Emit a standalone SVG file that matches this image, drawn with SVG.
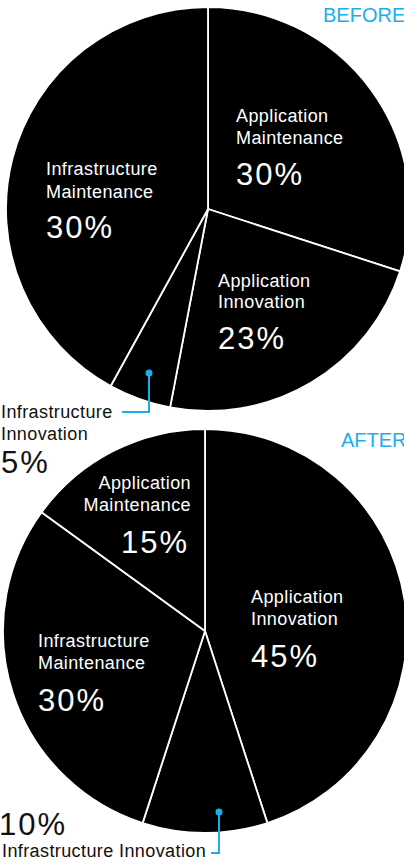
<svg xmlns="http://www.w3.org/2000/svg" width="404" height="861" viewBox="0 0 404 861">
<style>
.slice{fill:#000;stroke:#fff;stroke-width:1.8;stroke-linejoin:round}
.lbl{font-family:"Liberation Sans",Arial,Helvetica,sans-serif;font-size:18px;letter-spacing:0.4px}
.pct{font-family:"Liberation Sans",Arial,Helvetica,sans-serif;font-size:31px;letter-spacing:2px}
.in{fill:#fff}
.out{fill:#111}
.title{font-family:"Liberation Sans",Arial,Helvetica,sans-serif;font-size:20px;fill:#1aaeea}
.conn{fill:none;stroke:#1aaeea;stroke-width:2}
.dot{fill:#1aaeea}
</style>
<rect width="404" height="861" fill="#fff"/>
<text class="title" x="323" y="22">BEFORE</text>
<text class="title" x="341" y="447">AFTER</text>

<g id="before-app-maint">
<path class="slice" d="M208,209 L208,7 A202,202 0 0 1 400.1,271.4 Z"/>
<text class="lbl in" x="236" y="122">Application</text>
<text class="lbl in" x="236" y="144">Maintenance</text>
<text class="pct in" x="236" y="185">30%</text>
</g>
<g id="before-app-innov">
<path class="slice" d="M208,209 L400.1,271.4 A202,202 0 0 1 170.1,407.4 Z"/>
<text class="lbl in" x="218" y="287">Application</text>
<text class="lbl in" x="218" y="308">Innovation</text>
<text class="pct in" x="218" y="349">23%</text>
</g>
<g id="before-infra-innov">
<path class="slice" d="M208,209 L170.1,407.4 A202,202 0 0 1 110.7,386 Z"/>
<text class="lbl out" x="1" y="418">Infrastructure</text>
<text class="lbl out" x="1" y="440">Innovation</text>
<text class="pct out" x="1" y="473">5%</text>
</g>
<g id="before-infra-maint">
<path class="slice" d="M208,209 L110.7,386 A202,202 0 0 1 208,7 Z"/>
<text class="lbl in" x="46" y="175">Infrastructure</text>
<text class="lbl in" x="46" y="198">Maintenance</text>
<text class="pct in" x="46" y="238">30%</text>
</g>

<g id="after-app-innov">
<path class="slice" d="M205,631 L205,429 A202,202 0 0 1 267.4,823.1 Z"/>
<text class="lbl in" x="251" y="603">Application</text>
<text class="lbl in" x="251" y="625">Innovation</text>
<text class="pct in" x="251" y="667">45%</text>
</g>
<g id="after-infra-innov">
<path class="slice" d="M205,631 L267.4,823.1 A202,202 0 0 1 142.6,823.1 Z"/>
<text class="pct out" x="-1" y="835">10%</text>
<text class="lbl out" x="2" y="857">Infrastructure Innovation</text>
</g>
<g id="after-infra-maint">
<path class="slice" d="M205,631 L142.6,823.1 A202,202 0 0 1 41.6,512.3 Z"/>
<text class="lbl in" x="38" y="647">Infrastructure</text>
<text class="lbl in" x="38" y="669">Maintenance</text>
<text class="pct in" x="38" y="711">30%</text>
</g>
<g id="after-app-maint">
<path class="slice" d="M205,631 L41.6,512.3 A202,202 0 0 1 205,429 Z"/>
<text class="lbl in" x="191" y="489" text-anchor="end">Application</text>
<text class="lbl in" x="191" y="511" text-anchor="end">Maintenance</text>
<text class="pct in" x="189" y="553" text-anchor="end">15%</text>
</g>

<g id="connectors">
<circle class="dot" cx="149" cy="373" r="3.5"/>
<path class="conn" d="M149,373 V412 H122"/>
<circle class="dot" cx="219" cy="812" r="3.5"/>
<path class="conn" d="M219,812 V853 H211"/>
</g>
</svg>
